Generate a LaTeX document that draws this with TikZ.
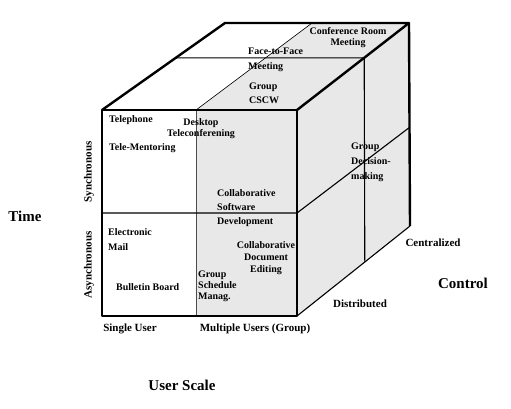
\documentclass[tikz,border=0pt]{standalone}
\usepackage{fontspec}
\setmainfont{Liberation Serif}
\usepackage{tikz}
\usetikzlibrary{calc}
\tikzset{cell/.style={font=\fontsize{10}{12}\selectfont\bfseries,inner sep=0pt,align=left}}
\tikzset{axis/.style={font=\fontsize{11}{13}\selectfont\bfseries,inner sep=0pt}}
\tikzset{dim/.style={font=\fontsize{15}{17}\selectfont\bfseries,inner sep=0pt}}

\begin{document}
\begin{tikzpicture}[x=1pt, y=-1pt, edge/.style={line width=2.4pt,line join=round}, part/.style={line width=1.1pt}, fine/.style={line width=0.6pt}]
\useasboundingbox (0,0) rectangle (511,408);
    % corners of the cube
    \coordinate (A) at (102,110);
    \coordinate (B) at (297,110);
    \coordinate (C) at (297,316);
    \coordinate (D) at (102,316);
    \coordinate (E) at (225,23);
    \coordinate (F) at (409,23);
    \coordinate (G) at (410,226);
    % dividing lines
    \coordinate (mt) at (196,110);
    \coordinate (mb) at (196,316);
    \coordinate (mk) at (312,23);
    \coordinate (hl) at (102,213);
    \coordinate (hr) at (297,213);
    \coordinate (hk) at (410,127);
    \coordinate (dl) at ($(A)!0.6!(E)$);
    \coordinate (dr) at ($(B)!0.6!(F)$);
    \coordinate (db) at ($(C)!0.6!(G)$);
    \fill[black!9] (mt) -- (mk) -- (F) -- (G) -- (C) -- (mb) -- cycle;
    \draw[fine] (mt) -- (mk);
    \draw[fine, black!70] (mt) -- (mb);
    \draw[part] (hl) -- (hr) -- (hk);
    \draw[part] (dl) -- (dr) -- (db);
    \draw[part] (C) -- (G);
    \draw[edge] (A) -- (B) -- (C) -- (D) -- cycle;
    \draw[edge] (A) -- (E) -- (F) -- (B);
    \draw[edge] (F) -- (G);
    % texts in the cube
    \node[cell, align=center] (confroom) at (348,38) {Conference Room\\[-1pt]Meeting};
    \node[cell, anchor=west] (facetoface) at (248,59.5) {Face-to-Face\\[3pt]Meeting};
    \node[cell, anchor=west] (cscw) at (249,93) {Group\\[2pt]CSCW};
    \node[cell, anchor=west] (phone) at (109,120) {Telephone};
    \node[cell, align=center] (desktop) at (201,128.5) {Desktop\\[-1pt]Teleconferening};
    \node[cell, anchor=west] (mentor) at (109,148) {Tele-Mentoring};
    \node[cell, anchor=west] (software) at (217,208) {Collaborative\\[2pt]Software\\[2pt]Development};
    \node[cell, anchor=west] (email) at (108,239.5) {Electronic\\[3pt]Mail};
    \node[cell, align=center] (editing) at (266,258) {Collaborative\\Document\\Editing};
    \node[cell, anchor=west] (bulletin) at (116,287) {Bulletin Board};
    \node[cell, anchor=west] (schedule) at (198,286) {Group\\[-1pt]Schedule\\[-1pt]Manag.};
    \node[cell, anchor=west] (decision) at (351,162) {Group\\[3pt]Decision-\\[3pt]making};
    % axis labels
    \node[axis] (single) at (130,329) {Single User};
    \node[axis] (multiple) at (255,329) {Multiple Users (Group)};
    \node[axis] (central) at (433,243) {Centralized};
    \node[axis] (distrib) at (360,304) {Distributed};
    \node[axis, rotate=90] (sync) at (89,172) {Synchronous};
    \node[axis, rotate=90] (async) at (89,265) {Asynchronous};
    \node[dim] (time) at (25,216) {Time};
    \node[dim] (userscale) at (182,385) {User Scale};
    \node[dim] (control) at (463,283) {Control};
\end{tikzpicture}
\end{document}
